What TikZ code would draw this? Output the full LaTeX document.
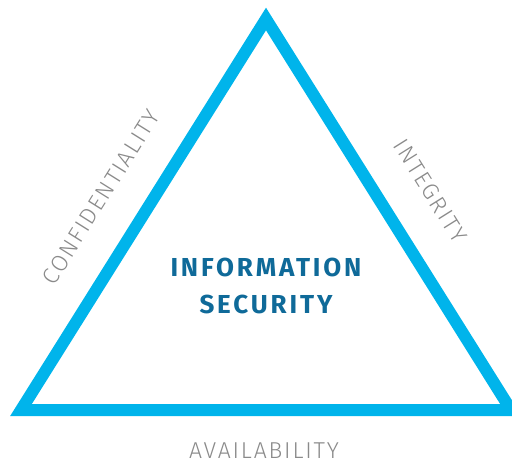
\documentclass[tikz,border=0pt]{standalone}
\usepackage{fontspec}
\setmainfont{Fira Sans}
\newfontfamily\lightfont[LetterSpace=8]{Fira Sans Light}
\newfontfamily\heavyfont[LetterSpace=11]{Fira Sans Bold}
\usepackage{xcolor}
\definecolor{SkyBlue}{HTML}{00B4EB}
\definecolor{DeepBlue}{HTML}{0F6A99}
\definecolor{LblGray}{HTML}{8A8A8A}

\begin{document}
\begin{tikzpicture}[x=1pt, y=-1pt,
  side/.style={draw=SkyBlue, line width=12pt, line join=miter},
  lbl/.style={font=\lightfont\fontsize{23}{26}\selectfont, text=LblGray, inner sep=0pt},
  core/.style={font=\heavyfont\fontsize{26}{37}\selectfont, text=DeepBlue, align=center}
]
  \useasboundingbox (0,0) rectangle (512,463);
  \clip (0,0) rectangle (512,463);
  \coordinate (top)   at (266,19);
  \coordinate (left)  at (21,410);
  \coordinate (right) at (511,410);
  \draw[side] (left) -- node[lbl, sloped, above=31pt, pos=0.483] (conf) {CONFIDENTIALITY}
              (top) -- node[lbl, sloped, above=34pt, pos=0.505] (integ) {INTEGRITY}
              (right) -- cycle;
  \node[lbl] (avail) at (264,451) {AVAILABILITY};
  \node[core] (infosec) at (266,286) {INFORMATION\\SECURITY};
\end{tikzpicture}
\end{document}
